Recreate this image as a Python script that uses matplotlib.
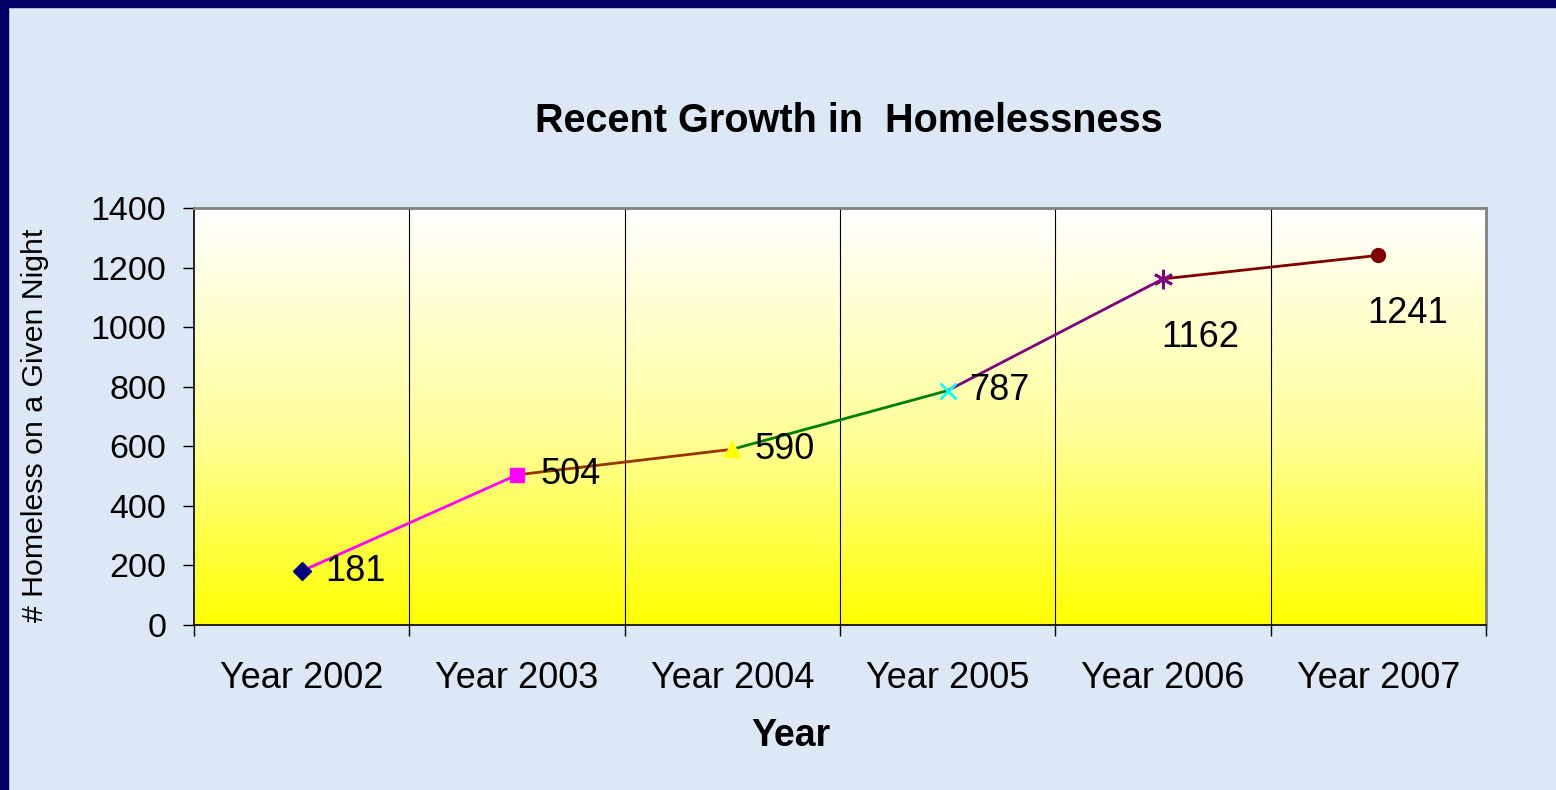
import matplotlib
matplotlib.use("Agg")
import matplotlib.pyplot as plt
import numpy as np
from matplotlib.colors import LinearSegmentedColormap
from matplotlib.patches import Rectangle

years = ["Year 2002", "Year 2003", "Year 2004", "Year 2005", "Year 2006", "Year 2007"]
values = [181, 504, 590, 787, 1162, 1241]
marker_colors = ["#000080", "#FF00FF", "#FFFF00", "#00FFFF", "#800080", "#800000"]
segment_colors = ["#FF00FF", "#993300", "#008000", "#800080", "#800000"]
yticks = [0, 200, 400, 600, 800, 1000, 1200, 1400]

plt.rcParams['font.family'] = ['Liberation Sans', 'DejaVu Sans']

W, H = 1556, 790
fig = plt.figure(figsize=(W / 100, H / 100), dpi=100)
fig.patch.set_facecolor("#DCE8F5")

# navy frame strips (left and top)
fig.add_artist(Rectangle((0, 0), 8 / W, 1, transform=fig.transFigure, color="#000066", zorder=0))
fig.add_artist(Rectangle((0, 1 - 7 / H), 1, 7 / H, transform=fig.transFigure, color="#000066", zorder=0))

ax = fig.add_axes([194 / W, 165 / H, (1486 - 194) / W, (625 - 208) / H])
ax.set_xlim(-0.5, 5.5)
ax.set_ylim(0, 1400)

# gradient background white -> yellow
cmap = LinearSegmentedColormap.from_list("wy", [(0, "#FFFF00"), (0.45, "#FFFF99"), (1, "#FFFFFF")])
grad = np.linspace(0, 1, 256).reshape(-1, 1)
ax.imshow(grad, cmap=cmap, aspect="auto", extent=[-0.5, 5.5, 0, 1400], origin="lower", zorder=0)

# vertical grid lines at category boundaries
for b in np.arange(0.5, 5.5, 1):
    ax.axvline(b, color="black", lw=0.8, zorder=1)

x = np.arange(len(years))
for i in range(len(values) - 1):
    ax.plot(x[i:i + 2], values[i:i + 2], color=segment_colors[i], lw=2, zorder=3)

asterisk = (6, 2, 0)
markers = ["D", "s", "^", "x", asterisk, "o"]
sizes = [9, 10, 11, 11, 14, 10]
for i in range(len(values)):
    m = markers[i]
    if m in ("x",) or isinstance(m, tuple):
        ax.plot(x[i], values[i], marker=m, color=marker_colors[i], ms=sizes[i], mew=2, ls="none", zorder=4)
    else:
        ax.plot(x[i], values[i], marker=m, color=marker_colors[i], mec=marker_colors[i], ms=sizes[i], ls="none", zorder=4)

offsets = [(24, 0), (24, 0), (22, 0), (21, 0), (-2, -59), (-11, -58)]
for i, v in enumerate(values):
    ax.annotate(str(v), (x[i], v), xytext=offsets[i], textcoords="offset pixels",
                ha="left", va="center", fontsize=26, color="black", zorder=5)

ax.set_yticks(yticks)
ax.set_yticklabels([str(t) for t in yticks], fontsize=24.5)
ax.set_xticks(x)
ax.set_xticklabels(years, fontsize=26)
ax.tick_params(axis="x", length=0, pad=26)
ax.set_xticks(np.arange(-0.5, 6.0, 1), minor=True)
ax.tick_params(axis="x", which="minor", length=8, width=1, direction="out", color="black")
ax.tick_params(axis="y", length=8, width=1, direction="out", pad=12)

for s in ["left", "bottom"]:
    ax.spines[s].set_color("black")
    ax.spines[s].set_linewidth(1.2)
for s in ["top", "right"]:
    ax.spines[s].set_color("#808080")
    ax.spines[s].set_linewidth(2)

fig.text(849 / W, 1 - 121 / H, "Recent Growth in  Homelessness", ha="center", va="center",
         fontsize=28.5, fontweight="bold")
fig.text(791 / W, 1 - 736 / H, "Year", ha="center", va="center", fontsize=27, fontweight="bold")
fig.text(35 / W, 1 - 425 / H, "# Homeless on a Given Night", ha="center", va="center",
         fontsize=21.8, rotation=90)

fig.savefig("out.png", dpi=100, facecolor=fig.get_facecolor())
